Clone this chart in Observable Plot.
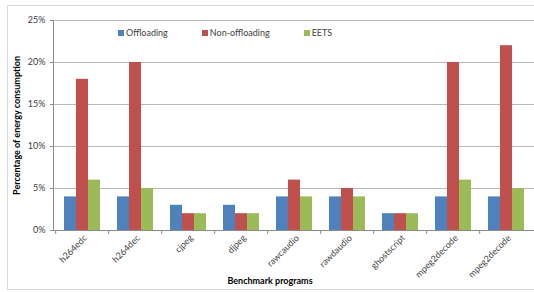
<!DOCTYPE html>
<html>
<head>
<meta charset="utf-8">
<script src="https://cdn.jsdelivr.net/npm/d3@7"></script>
<script src="https://cdn.jsdelivr.net/npm/@observablehq/plot@0.6"></script>
<style>
  html, body { margin: 0; padding: 0; background: #fff; }
  #wrap { position: relative; width: 534px; height: 292px; overflow: hidden; font-family: Lato, "Open Sans", sans-serif; }
  #border { position: absolute; left: 7px; top: 5px; width: 560px; height: 285px; border: 1px solid #d9d9d9; box-sizing: border-box; pointer-events: none; }
  #legend { position: absolute; left: 118px; top: 27px; }
  #legend .lg-swatches { display: flex; font-family: Lato, sans-serif; font-size: 9px; color: #404040; margin: 0; min-height: 0; }
  #legend .lg-swatch { margin-right: 34px; display: inline-flex; align-items: center; }
  #legend .lg-swatch > svg { margin-right: 2px; }
</style>
</head>
<body>
<div id="wrap"><div id="border"></div><div id="chart"></div><div id="legend"></div></div>
<script>
const categories = ["h264edc","h264dec","cjpeg","djpeg","rawcaudio","rawdaudio","ghostscript","mpeg2decode","mpeg2decode"];
const series = ["Offloading","Non-offloading","EETS"];
const offloading    = [4, 4, 3, 3, 4, 4, 2, 4, 4];
const nonOffloading = [18, 20, 2, 2, 6, 5, 2, 20, 22];
const eets          = [6, 5, 2, 2, 4, 4, 2, 6, 5];
const yTicks = [0, 5, 10, 15, 20, 25];
const colors = ["#4F81BD", "#C0504D", "#9BBB59"];
const yTitle = "Percentage of energy consumption";
const xTitle = "Benchmark programs";

const seriesValues = [offloading, nonOffloading, eets];
const idx = d3.range(categories.length);
const rows = (j) => idx.map(i => ({i, cat: categories[i], series: series[j], value: seriesValues[j][i]}));

const chart = Plot.plot({
  width: 534, height: 292,
  marginLeft: 53, marginRight: 0, marginTop: 20, marginBottom: 62,
  style: {fontFamily: "Lato, sans-serif", fontSize: "9px", color: "#404040", background: "transparent"},
  x: {domain: idx, paddingInner: 0.33, paddingOuter: 0.165, axis: null},
  y: {domain: [0, 25], axis: null},
  color: {domain: series, range: colors},
  marks: [
    Plot.ruleY(yTicks, {stroke: "#b8b8b8", strokeWidth: 1}),
    Plot.barY(rows(0), {x: "i", y: "value", fill: "series", insetRight: 24}),
    Plot.barY(rows(1), {x: "i", y: "value", fill: "series", insetLeft: 12, insetRight: 12}),
    Plot.barY(rows(2), {x: "i", y: "value", fill: "series", insetLeft: 24}),
    Plot.ruleY([0], {stroke: "#8c8c8c"}),
    Plot.frame({anchor: "left", stroke: "#8c8c8c"}),
    Plot.axisY(yTicks, {tickSize: 3, tickPadding: 5, tickFormat: d => d + "%", label: null, stroke: "#8c8c8c", fill: "#404040"}),
    Plot.ruleX(idx, {x: d => d, y1: 0, y2: 0, insetBottom: -4, dx: -26.8, stroke: "#8c8c8c"}),
    Plot.axisX(idx, {tickSize: 0, tickPadding: 6, tickRotate: -45, tickFormat: i => categories[i], label: null, fill: "#404040", dx: 3}),
    Plot.text([yTitle], {frameAnchor: "left", text: d => d, rotate: -90, textAnchor: "middle", dx: -36, fontWeight: "bold", fill: "#000", fontSize: 9}),
    Plot.text([xTitle], {frameAnchor: "bottom", text: d => d, dx: -24, dy: 53, fontWeight: "bold", fill: "#000", fontSize: 9})
  ]
});
document.getElementById("chart").appendChild(chart);

const legend = Plot.legend({color: {domain: series, range: colors}, legend: "swatches", swatchSize: 6, className: "lg"});
document.getElementById("legend").appendChild(legend);
</script>
</body>
</html>
